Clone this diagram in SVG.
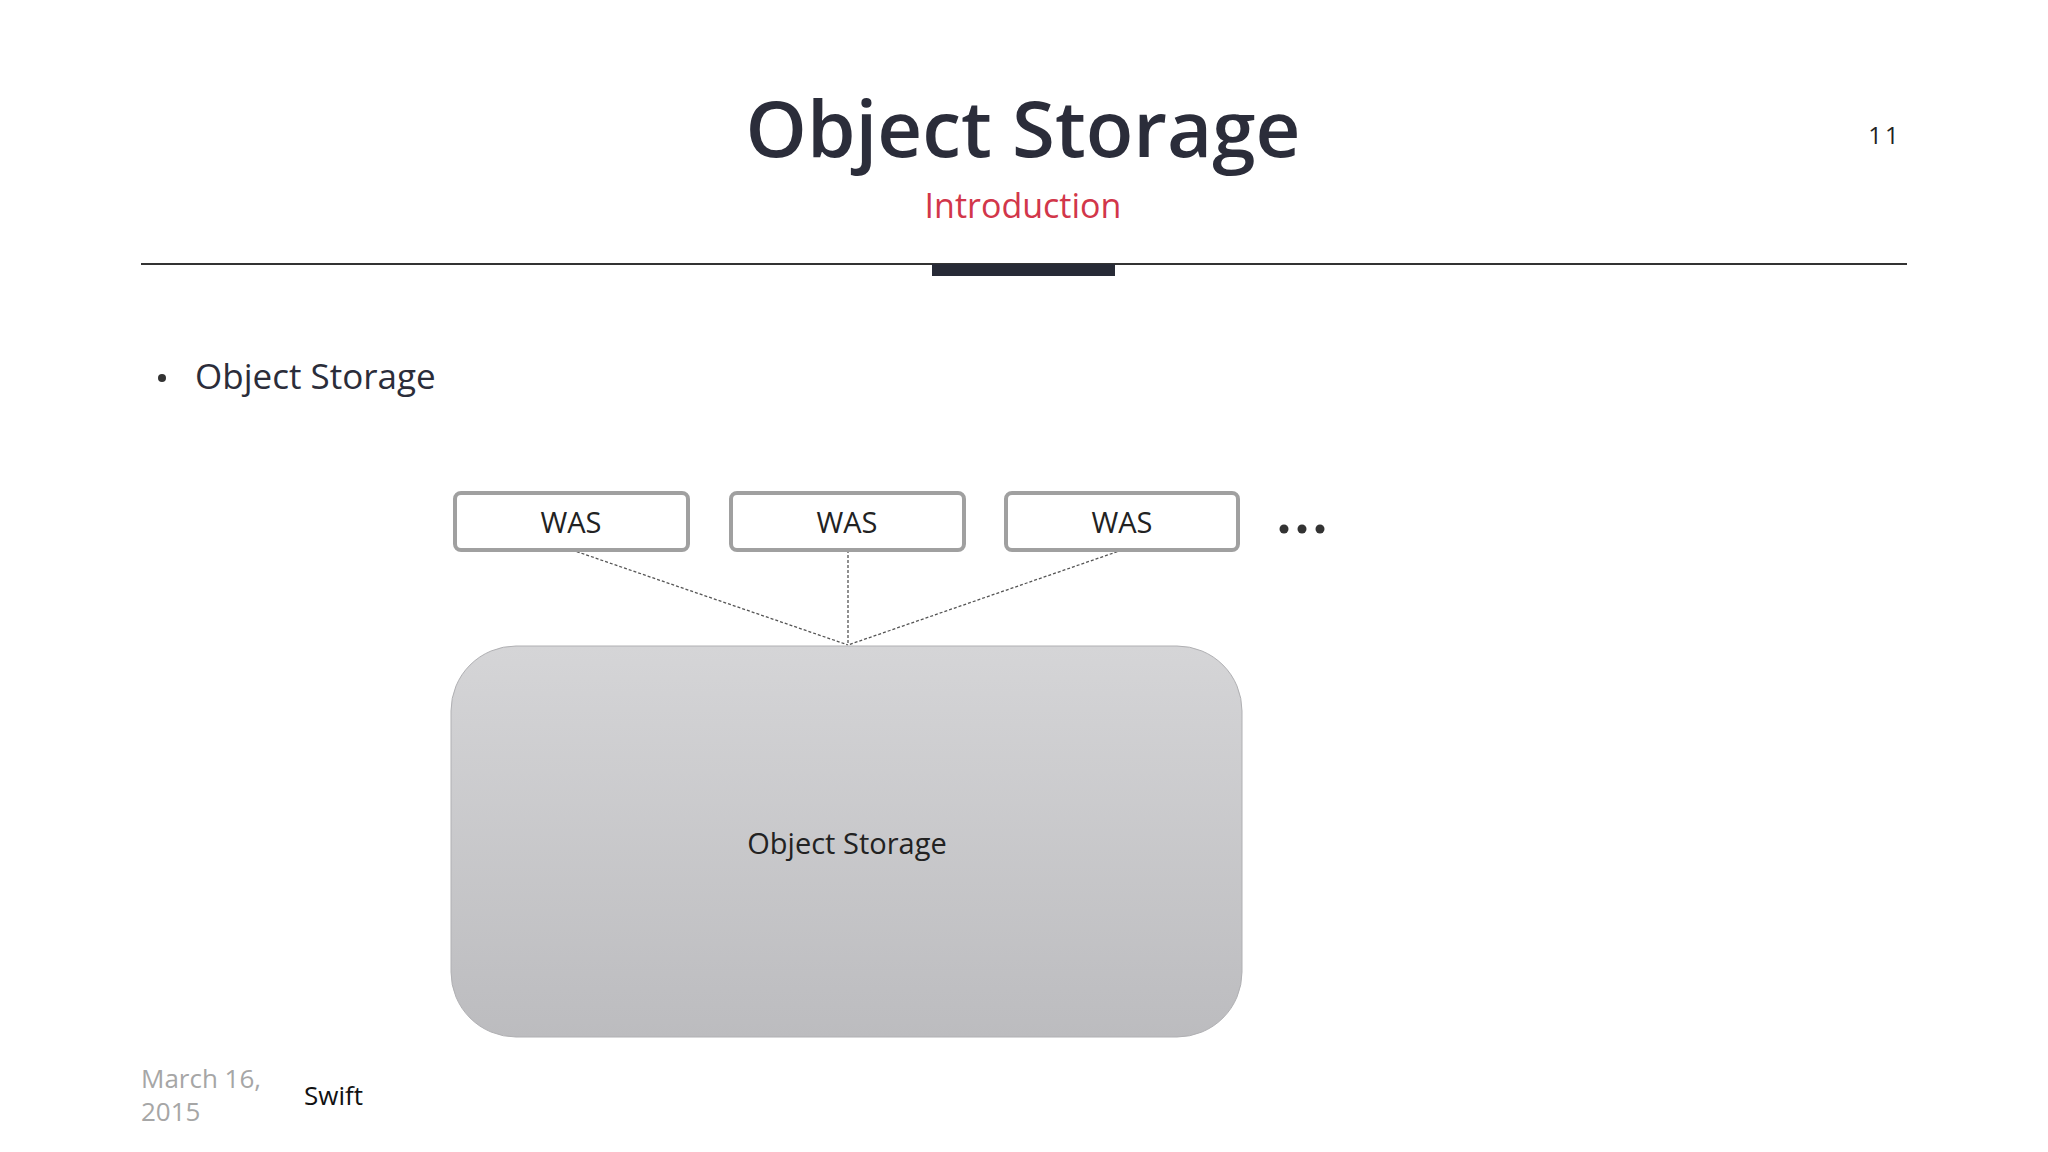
<svg xmlns="http://www.w3.org/2000/svg" width="2048" height="1152" viewBox="0 0 2048 1152">
<style>
text{font-family:"Open Sans","Noto Sans",sans-serif}
.was{fill:#fff;stroke:#a0a0a0;stroke-width:4}
.wt{font-size:29px;fill:#222;text-anchor:middle}
.conn{stroke:#555;stroke-width:1.3;stroke-dasharray:3 2;fill:none}
</style>
<defs>
<linearGradient id="g" x1="0" y1="0" x2="0" y2="1"><stop offset="0" stop-color="#d5d5d7"/><stop offset="1" stop-color="#bcbcbf"/></linearGradient>
</defs>
<rect width="2048" height="1152" fill="#fff"/>
<g id="header">
<text x="1023" y="157" font-size="78" font-weight="600" fill="#2b2d3a" text-anchor="middle">Object Storage</text>
<text x="1023" y="218" font-size="34" fill="#d2364a" text-anchor="middle">Introduction</text>
<text x="1885" y="144" font-size="24" fill="#222" text-anchor="middle" letter-spacing="3">11</text>
<line x1="141" y1="264" x2="1907" y2="264" stroke="#333" stroke-width="2"/>
<rect x="932" y="264" width="183" height="12" fill="#272a36"/>
</g>
<g id="bullet">
<circle cx="162" cy="378" r="4" fill="#333"/>
<text x="195" y="389" font-size="35" fill="#2b2d3a">Object Storage</text>
</g>
<g id="connectors">
<line class="conn" x1="572" y1="550" x2="848" y2="645"/>
<line class="conn" x1="848" y1="550" x2="848" y2="645"/>
<line class="conn" x1="1122" y1="550" x2="848" y2="645"/>
</g>
<g id="was1"><rect class="was" x="455" y="493" width="233" height="57" rx="6"/><text class="wt" x="571" y="533">WAS</text></g>
<g id="was2"><rect class="was" x="731" y="493" width="233" height="57" rx="6"/><text class="wt" x="847" y="533">WAS</text></g>
<g id="was3"><rect class="was" x="1006" y="493" width="232" height="57" rx="6"/><text class="wt" x="1122" y="533">WAS</text></g>
<g id="dots" fill="#333"><circle cx="1284" cy="529" r="4.5"/><circle cx="1302" cy="529" r="4.5"/><circle cx="1320" cy="529" r="4.5"/></g>
<g id="storage">
<rect x="451" y="646" width="791" height="391" rx="65" fill="url(#g)" stroke="#b0b0b3" stroke-width="1"/>
<text x="847" y="854" font-size="29" fill="#222" text-anchor="middle">Object Storage</text>
</g>
<g id="footer">
<text x="141" y="1088" font-size="26" fill="#a6a6a6">March 16,</text>
<text x="141" y="1121" font-size="26" fill="#a6a6a6">2015</text>
<text x="304" y="1105" font-size="26" fill="#111">Swift</text>
</g>
</svg>
